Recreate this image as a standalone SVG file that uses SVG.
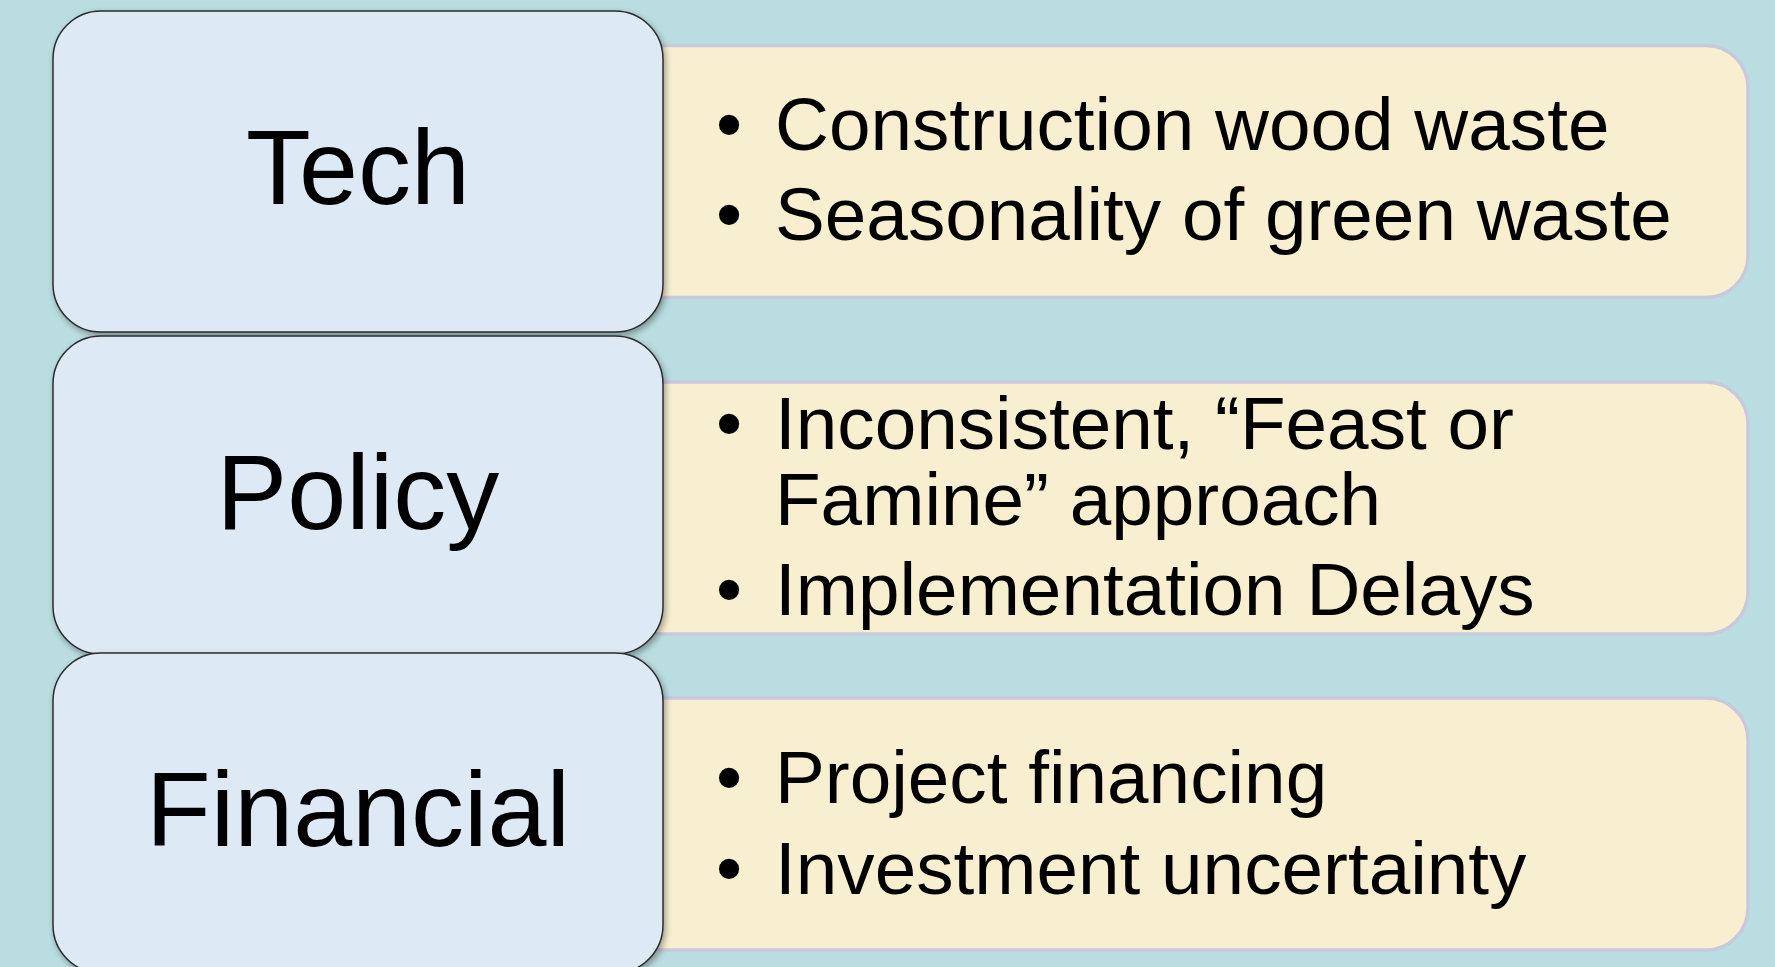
<svg xmlns="http://www.w3.org/2000/svg" width="1775" height="967" viewBox="0 0 1775 967">
  <defs>
    <filter id="shadow" x="-5%" y="-5%" width="110%" height="110%">
      <feDropShadow dx="2" dy="3" stdDeviation="3" flood-color="#000" flood-opacity="0.35"/>
    </filter>
    <style>
      .bg { fill: #B9DDE1; }
      .detail { fill: #F8EFD0; stroke: #C8C9DD; stroke-width: 3.5; }
      .cat { fill: #DDEAF6; stroke: #2B2B2B; stroke-width: 1.5; filter: url(#shadow); }
      .cat-label { font-family: "Liberation Sans", Arial, sans-serif; font-size: 106px; fill: #000; text-anchor: middle; }
      .item { font-family: "Liberation Sans", Arial, sans-serif; font-size: 74.7px; fill: #000; }
    </style>
  </defs>
  <rect class="bg" x="0" y="0" width="1775" height="967"/>

  <g id="connectors"></g>

  <!-- Detail boxes (drawn first, partly behind category boxes) -->
  <g id="tech-details">
    <rect class="detail" x="620" y="45.5" width="1128" height="252" rx="42" ry="42"/>
    <text class="item" x="716" y="150">•</text>
    <text class="item" x="775" y="150">Construction wood waste</text>
    <text class="item" x="716" y="240">•</text>
    <text class="item" x="775" y="240">Seasonality of green waste</text>
  </g>
  <g id="policy-details">
    <rect class="detail" x="620" y="382" width="1128" height="252" rx="42" ry="42"/>
    <text class="item" x="716" y="449">•</text>
    <text class="item" x="775" y="449">Inconsistent, “Feast or</text>
    <text class="item" x="775" y="525">Famine” approach</text>
    <text class="item" x="716" y="615">•</text>
    <text class="item" x="775" y="615">Implementation Delays</text>
  </g>
  <g id="financial-details">
    <rect class="detail" x="620" y="698" width="1128" height="252" rx="42" ry="42"/>
    <text class="item" x="716" y="803">•</text>
    <text class="item" x="775" y="803">Project financing</text>
    <text class="item" x="716" y="894">•</text>
    <text class="item" x="775" y="894">Investment uncertainty</text>
  </g>

  <!-- Category boxes -->
  <g id="tech">
    <rect class="cat" x="53" y="11" width="610" height="321" rx="48" ry="48"/>
    <text class="cat-label" x="358" y="204">Tech</text>
  </g>
  <g id="policy">
    <rect class="cat" x="53" y="336" width="610" height="318" rx="48" ry="48"/>
    <text class="cat-label" x="358" y="529">Policy</text>
  </g>
  <g id="financial">
    <rect class="cat" x="53" y="653" width="610" height="320" rx="48" ry="48"/>
    <text class="cat-label" x="358" y="846">Financial</text>
  </g>
</svg>
